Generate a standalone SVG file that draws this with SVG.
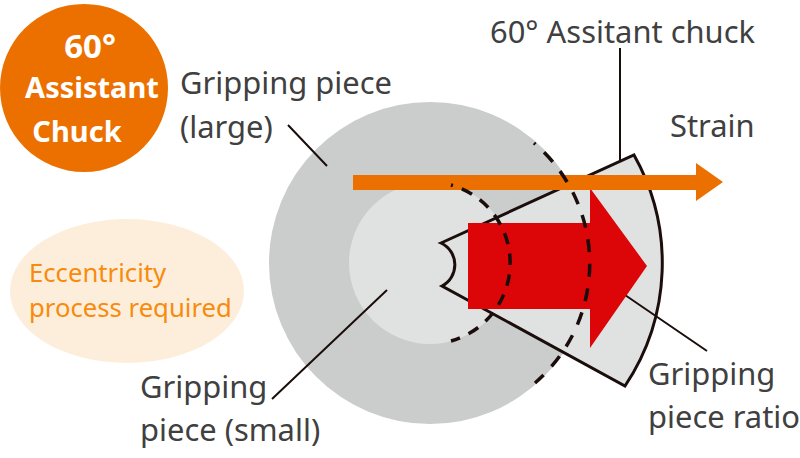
<svg xmlns="http://www.w3.org/2000/svg" width="800" height="458" viewBox="0 0 800 458">
<style>
text{font-family:"Noto Sans",sans-serif}
.l{font-size:30.9px;fill:#404040}
.o{font-size:25.7px;fill:#f78b0c}
.b{font-size:29px;font-weight:700;fill:#fff}
.c{fill:none;stroke:#1a0d0b;stroke-width:2}
.d{fill:none;stroke:#1a0d0b;stroke-width:3.5}
</style>
<rect width="800" height="458" fill="#fff"/>
<g id="badge"><circle cx="84" cy="88" r="84" fill="#ec7000"/>
<text class="b" x="90" y="58" text-anchor="middle" style="font-size:33px">60°</text><text class="b" x="92" y="98" text-anchor="middle">Assistant</text><text class="b" x="77" y="142" text-anchor="middle">Chuck</text></g>
<g id="note"><ellipse cx="127" cy="291" rx="117" ry="72" fill="#fdeedc"/>
<text class="o" x="29" y="282">Eccentricity</text><text class="o" x="29" y="317">process required</text></g>
<g id="large-piece"><circle cx="430" cy="263" r="161" fill="#cbcdcc"/></g>
<g id="small-piece"><circle cx="430" cy="263" r="81" fill="#e0e2e1"/></g>
<g id="chuck"><path d="M441 243L634 155A221 221 0 0 1 625 386L442 286A24 24 0 0 0 441 243Z" fill="#e0e2e1" stroke="#1a0d0b" stroke-width="3"/></g>
<g id="connectors"><path class="c" d="M288 125L327 166M620 48V160M272 399L387 290M625 295L707 351"/></g>
<g id="ratio-arrow"><path d="M468 223H590V188L647 266L590 348V309H468Z" fill="#dc0508"/></g>
<g id="strain-arrow"><path d="M353 175H696V163L723 182L696 201V190H353Z" fill="#ec7000"/></g>
<g id="dashes"><path class="d" stroke-dasharray="11.5 9.5" stroke-dashoffset="9.5" d="M451 185A81 81 0 0 1 451 341"/><path class="d" stroke-dasharray="13 11.7" stroke-dashoffset="11" d="M534 143A158 158 0 0 1 535 383"/></g>
<g id="labels"><text class="l" x="180" y="94">Gripping piece</text><text class="l" x="180" y="138">(large)</text>
<text class="l" x="490" y="43">60° Assitant chuck</text><text class="l" x="670" y="137">Strain</text>
<text class="l" x="140" y="398">Gripping</text><text class="l" x="140" y="441">piece (small)</text>
<text class="l" x="648" y="385">Gripping</text><text class="l" x="648" y="428">piece ratio</text></g>
</svg>
